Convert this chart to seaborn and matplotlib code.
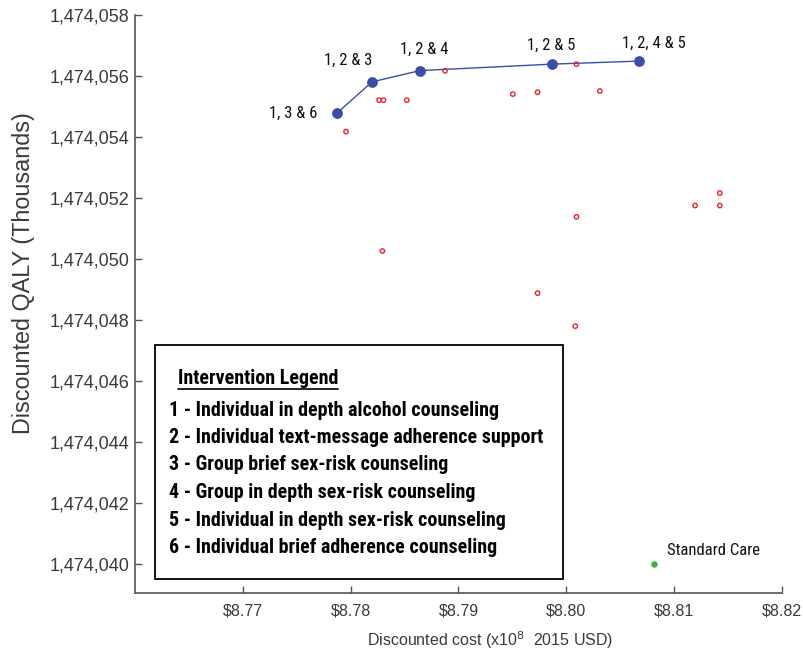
import matplotlib
matplotlib.use("Agg")
import matplotlib.pyplot as plt
import seaborn as sns
import pandas as pd
from matplotlib.patches import Rectangle
from matplotlib.ticker import FuncFormatter, MultipleLocator

# Efficient frontier strategies (cost in $1e8, QALY in thousands)
frontier_labels = ["1, 3 & 6", "1, 2 & 3", "1, 2 & 4", "1, 2 & 5", "1, 2, 4 & 5"]
frontier_cost = [8.77874, 8.78198, 8.78643, 8.79863, 8.80670]
frontier_qaly = [1474054.78, 1474055.80, 1474056.17, 1474056.38, 1474056.48]

# Dominated strategies
other_cost = [8.77957, 8.78264, 8.78304, 8.78521, 8.78875, 8.79504, 8.79733,
              8.80094, 8.80310, 8.81423, 8.81194, 8.81423, 8.78294, 8.79733,
              8.80083, 8.80094]
other_qaly = [1474054.17, 1474055.20, 1474055.20, 1474055.20, 1474056.16,
              1474055.40, 1474055.46, 1474056.38, 1474055.50, 1474052.16,
              1474051.75, 1474051.75, 1474050.26, 1474048.88, 1474047.80,
              1474051.38]

# Reference strategy
standard_label = "Standard Care"
standard_cost = [8.80809]
standard_qaly = [1474040.0]

legend_title = "Intervention Legend"
legend_items = [
    "1 - Individual in depth alcohol counseling",
    "2 - Individual text-message adherence support",
    "3 - Group brief sex-risk counseling",
    "4 - Group in depth sex-risk counseling",
    "5 - Individual in depth sex-risk counseling",
    "6 - Individual brief adherence counseling",
]

sns.set_style("ticks")
plt.rcParams["font.family"] = ["Liberation Sans", "DejaVu Sans"]

front_df = pd.DataFrame({"cost": frontier_cost, "qaly": frontier_qaly})
other_df = pd.DataFrame({"cost": other_cost, "qaly": other_qaly})
std_df = pd.DataFrame({"cost": standard_cost, "qaly": standard_qaly})

fig = plt.figure(figsize=(8.04, 6.54), dpi=100)
ax = fig.add_axes([135 / 804, 1 - 592.7 / 654, (782 - 135) / 804, (592.7 - 14.7) / 654])

blue = "#3a4ea6"
sns.lineplot(data=front_df, x="cost", y="qaly", ax=ax, color=blue, lw=1.0,
             sort=False, zorder=2)
sns.scatterplot(data=front_df, x="cost", y="qaly", ax=ax, color=blue, s=60,
                edgecolor=blue, linewidth=0, zorder=3)
sns.scatterplot(data=other_df, x="cost", y="qaly", ax=ax, facecolor="none",
                edgecolor="#e8232c", s=10, linewidth=1.0, zorder=4)
sns.scatterplot(data=std_df, x="cost", y="qaly", ax=ax, color="#3cb43c", s=22,
                linewidth=0, zorder=3)

point_font = dict(fontsize=12, family="Roboto Condensed", fontweight=400,
                  color="#111111")
offsets = [(-20, 0, "right", "center"), (-24, 22, "center", "center"),
           (4, 21, "center", "center"), (0, 19, "center", "center"),
           (15, 18, "center", "center")]
for lab, cx, cy, (dx, dy, ha, va) in zip(frontier_labels, frontier_cost, frontier_qaly, offsets):
    ax.annotate(lab, (cx, cy), xytext=(dx, dy), textcoords="offset pixels",
                ha=ha, va=va, **point_font)
ax.annotate(standard_label, (standard_cost[0], standard_qaly[0]), xytext=(13, 14),
            textcoords="offset pixels", ha="left", va="center", **point_font)

ax.set_xlim(8.76, 8.82)
ax.set_ylim(1474039.07, 1474058)
ax.yaxis.set_major_locator(MultipleLocator(2))
ax.set_xticks([8.77, 8.78, 8.79, 8.80, 8.81, 8.82])
ax.xaxis.set_major_formatter(FuncFormatter(lambda v, p: f"${v:.2f}"))
ax.yaxis.set_major_formatter(FuncFormatter(lambda v, p: f"{v:,.0f}"))

spine_col = "#555555"
for s in ["top", "right"]:
    ax.spines[s].set_visible(False)
for s in ["left", "bottom"]:
    ax.spines[s].set_color(spine_col)
    ax.spines[s].set_linewidth(1.2)
ax.tick_params(axis="both", direction="in", length=5, width=1.0, color=spine_col)
ax.tick_params(axis="y", labelsize=13, labelcolor="#3a3a3a", pad=4)
ax.tick_params(axis="x", labelsize=11.5, labelcolor="#3a3a3a", pad=8)

ax.set_xlabel("Discounted cost (x10$^{8}$  2015 USD)", fontsize=11.5, color="#3a3a3a")
ax.set_ylabel("Discounted QALY (Thousands)", fontsize=16.8, color="#3a3a3a")
ax.xaxis.set_label_coords((490 - 135) / 647, (592.7 - 629) / 578)
ax.yaxis.set_label_coords((35 - 135) / 647, (592.7 - 273) / 578)

# Legend box of intervention codes
box = Rectangle((155 / 804, 1 - 579 / 654), (563.3 - 155) / 804, (579 - 345) / 654,
                transform=fig.transFigure, facecolor="white", edgecolor="black",
                linewidth=1.3, zorder=5)
fig.add_artist(box)
legend_font = dict(fontsize=14.4, fontweight="bold", family="Roboto Condensed",
                   color="black", zorder=6)
title = fig.text(178 / 804, 1 - 379 / 654, legend_title, ha="left", va="center",
                 **legend_font)
for i, item in enumerate(legend_items):
    fig.text(169 / 804, 1 - (410 + 27.5 * i) / 654, item, ha="left", va="center",
             **legend_font)

renderer = fig.canvas.get_renderer()
bb = title.get_window_extent(renderer).transformed(fig.transFigure.inverted())
fig.add_artist(plt.Line2D([bb.x0, bb.x1], [bb.y0 - 0.001, bb.y0 - 0.001],
                          transform=fig.transFigure, color="black", lw=1.2, zorder=6))

fig.savefig("out.png", dpi=100)
